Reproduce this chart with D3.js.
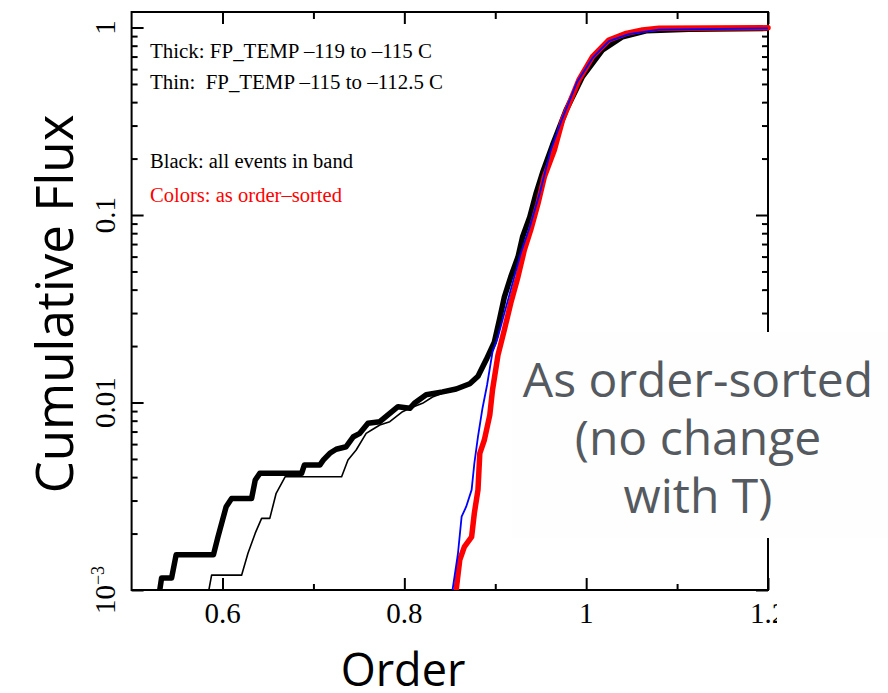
<!DOCTYPE html>
<html><head><meta charset="utf-8">
<script src="https://cdn.jsdelivr.net/npm/d3@7"></script>
<style>body{margin:0;background:#fff}</style>
</head><body><svg id="c" width="888" height="693"></svg>
<script>
// ---- data ----
const xMajorTicks = [0.6, 0.8, 1.0, 1.2];
const xMinorTicks = [0.7, 0.9, 1.1];
const xTickLabels = ["0.6", "0.8", "1", "1.2"];
const yMajorTicks = [0.001, 0.01, 0.1, 1];
const yTickLabels = ["10", "0.01", "0.1", "1"];
const yMinorMultiples = [2, 3, 4, 5, 6, 7, 8, 9];

// Thick black: FP_TEMP -119 to -115 C, all events in band
const thickBlackOrder = [0.531,0.533,0.544,0.549,0.590,0.595,0.604,0.610,0.632,0.636,0.641,0.687,0.690,0.707,0.711,0.718,0.725,0.736,0.744,0.751,0.760,0.773,0.784,0.793,0.806,0.811,0.824,0.842,0.857,0.872,0.881,0.890,0.899,0.905,0.910,0.917,0.925,0.930,0.938,0.945,0.952,0.963,0.978,0.996,1.018,1.040,1.066,1.113,1.200];
const thickBlackFlux = [0.00100,0.00116,0.00116,0.00154,0.00154,0.00192,0.00278,0.00308,0.00308,0.00386,0.00419,0.00419,0.00464,0.00464,0.00494,0.00536,0.00563,0.00581,0.00657,0.00685,0.00775,0.00790,0.00876,0.00950,0.00931,0.00990,0.0110,0.0114,0.0118,0.0126,0.0138,0.0169,0.0210,0.0282,0.0365,0.0467,0.0597,0.0763,0.0976,0.131,0.168,0.236,0.363,0.547,0.759,0.893,0.960,0.978,0.990];

// Thin black: FP_TEMP -115 to -112.5 C, all events in band
const thinBlackOrder = [0.585,0.588,0.621,0.628,0.636,0.643,0.652,0.659,0.669,0.731,0.738,0.747,0.758,0.764,0.773,0.784,0.791,0.798,0.806,0.820,0.831,0.842,0.857,0.872,0.881,0.890,0.899,0.905,0.910,0.917,0.925,0.930,0.938,0.945,0.952,0.963,0.978,0.996,1.018,1.040,1.066,1.113,1.200];
const thinBlackFlux = [0.00100,0.00120,0.00120,0.00157,0.00201,0.00241,0.00241,0.00328,0.00402,0.00402,0.00494,0.00558,0.00685,0.00713,0.00759,0.00790,0.00840,0.00893,0.00931,0.00990,0.0107,0.0112,0.0117,0.0124,0.0135,0.0164,0.0205,0.0275,0.0357,0.0461,0.0590,0.0754,0.0964,0.129,0.166,0.233,0.359,0.545,0.759,0.890,0.958,0.976,0.988];

// Red (thick, as order-sorted)
const thickRedOrder = [0.857,0.861,0.866,0.874,0.877,0.881,0.883,0.888,0.894,0.897,0.903,0.910,0.917,0.925,0.932,0.939,0.947,0.954,0.965,0.974,0.983,0.992,1.007,1.025,1.044,1.062,1.080,1.200];
const thickRedFlux = [0.00100,0.00145,0.00170,0.00192,0.00257,0.00342,0.00536,0.00631,0.00858,0.0117,0.0179,0.0244,0.0338,0.0469,0.0651,0.0832,0.115,0.160,0.222,0.321,0.411,0.525,0.699,0.858,0.931,0.970,0.990,0.996];

// Blue (thin, as order-sorted)
const thinBlueOrder = [0.853,0.859,0.863,0.868,0.874,0.877,0.881,0.886,0.891,0.897,0.903,0.910,0.919,0.928,0.938,0.949,0.961,0.973,0.990,1.007,1.025,1.047,1.080,1.200];
const thinBlueFlux = [0.00100,0.00157,0.00246,0.00278,0.00342,0.00474,0.00657,0.00935,0.0124,0.0186,0.0224,0.0299,0.0432,0.0625,0.0866,0.131,0.222,0.321,0.512,0.688,0.847,0.923,0.975,0.990];

const noteLines = ["Thick: FP_TEMP \u2013119 to \u2013115 C", "Thin:  FP_TEMP \u2013115 to \u2013112.5 C", "Black: all events in band", "Colors: as order\u2013sorted"];
const overlayLines = ["As order-sorted", "(no change", "with T)"];

// ---- chart ----
const svg = d3.select("#c");
const L = 131.6, R = 768, T = 12, B = 590;
const x = d3.scaleLinear().domain([0.5, 1.2]).range([L, R]);
const y = d3.scaleLog().domain([0.001, 1.21]).range([B, T]);

const yMinor = [];
yMajorTicks.slice(0, 3).forEach(d => yMinorMultiples.forEach(m => yMinor.push(d * m)));

const serif = "'Liberation Serif','Times New Roman',serif";
const sans = "'Open Sans','Noto Sans',sans-serif";

function styleAxis(g) {
  g.select(".domain").remove();
  g.selectAll(".tick line").attr("stroke", "#000").attr("stroke-width", 2);
  g.selectAll(".tick text").remove();
}
// bottom & top
svg.append("g").attr("transform", `translate(0,${B})`).call(d3.axisBottom(x).tickValues(xMajorTicks).tickSize(-12)).call(styleAxis);
svg.append("g").attr("transform", `translate(0,${B})`).call(d3.axisBottom(x).tickValues(xMinorTicks).tickSize(-6)).call(styleAxis);
svg.append("g").attr("transform", `translate(0,${T})`).call(d3.axisTop(x).tickValues(xMajorTicks).tickSize(-12)).call(styleAxis);
svg.append("g").attr("transform", `translate(0,${T})`).call(d3.axisTop(x).tickValues(xMinorTicks).tickSize(-7)).call(styleAxis);
// left & right
svg.append("g").attr("transform", `translate(${L},0)`).call(d3.axisLeft(y).tickValues(yMajorTicks).tickSize(-12)).call(styleAxis);
svg.append("g").attr("transform", `translate(${L},0)`).call(d3.axisLeft(y).tickValues(yMinor).tickSize(-6)).call(styleAxis);
svg.append("g").attr("transform", `translate(${R},0)`).call(d3.axisRight(y).tickValues(yMajorTicks).tickSize(-12)).call(styleAxis);
svg.append("g").attr("transform", `translate(${R},0)`).call(d3.axisRight(y).tickValues(yMinor).tickSize(-6)).call(styleAxis);

// frame
svg.append("rect").attr("x", L).attr("y", T).attr("width", R - L).attr("height", B - T)
  .attr("fill", "none").attr("stroke", "#000").attr("stroke-width", 2);

// x tick labels
svg.append("clipPath").attr("id", "xl").append("rect").attr("x", 0).attr("y", 590).attr("width", 777).attr("height", 60);
svg.append("g").attr("clip-path", "url(#xl)").selectAll("text").data(xMajorTicks).join("text")
  .attr("x", d => x(d)).attr("y", 623).attr("text-anchor", "middle")
  .attr("font-family", serif).attr("font-size", 29).attr("fill", "#000")
  .text((d, i) => xTickLabels[i]);

// y tick labels (rotated)
yMajorTicks.forEach((d, i) => {
  const t = svg.append("text").attr("transform", `translate(115,${y(d)}) rotate(-90)`)
    .attr("text-anchor", "middle").attr("font-family", serif).attr("font-size", 29).attr("fill", "#000");
  t.append("tspan").text(yTickLabels[i]);
  if (i === 0) t.append("tspan").attr("font-size", 18).attr("dy", -11).text("\u22123");
});

// curves
const line = d3.line().x(d => x(d[0])).y(d => y(d[1]));
const zip = (a, b) => a.map((v, i) => [v, b[i]]);
svg.append("clipPath").attr("id", "pc").append("rect").attr("x", L).attr("y", T - 5).attr("width", R - L + 5).attr("height", B - T + 5);
const plot = svg.append("g").attr("clip-path", "url(#pc)");
plot.append("path").datum(zip(thinBlackOrder, thinBlackFlux)).attr("d", line).attr("fill", "none").attr("stroke", "#000").attr("stroke-width", 1.6).attr("stroke-linejoin", "round");
plot.append("path").datum(zip(thickBlackOrder, thickBlackFlux)).attr("d", line).attr("fill", "none").attr("stroke", "#000").attr("stroke-width", 5.5).attr("stroke-linejoin", "round");
plot.append("path").datum(zip(thickRedOrder, thickRedFlux)).attr("d", line).attr("fill", "none").attr("stroke", "#ff0000").attr("stroke-width", 5.5).attr("stroke-linejoin", "round").attr("stroke-linecap", "round");
plot.append("path").datum(zip(thinBlueOrder, thinBlueFlux)).attr("d", line).attr("fill", "none").attr("stroke", "#0000ff").attr("stroke-width", 1.8).attr("stroke-linejoin", "round");

// notes inside plot
const noteY = [58, 89, 168, 202];
const noteW = [282, 293, 203, 192];
noteLines.forEach((s, i) => {
  svg.append("text").attr("x", 150).attr("y", noteY[i]).attr("font-family", serif).attr("font-size", 20.5)
    .attr("fill", i === 3 ? "#ff0000" : "#000").attr("textLength", noteW[i]).attr("lengthAdjust", "spacingAndGlyphs")
    .style("white-space", "pre").text(s);
});

// axis titles
svg.append("text").attr("x", 403).attr("y", 686).attr("text-anchor", "middle").attr("font-family", sans).attr("font-size", 45).attr("fill", "#000").text("Order");
svg.append("text").attr("transform", "translate(73,304) rotate(-90)").attr("text-anchor", "middle").attr("font-family", sans).attr("font-size", 51).attr("fill", "#000").text("Cumulative Flux");

// overlay box + text
svg.append("rect").attr("x", 512).attr("y", 332).attr("width", 376).attr("height", 206).attr("fill", "#fefefe");
overlayLines.forEach((s, i) => {
  svg.append("text").attr("x", 698).attr("y", 397 + i * 58).attr("text-anchor", "middle").attr("font-family", sans)
    .attr("font-size", 48).attr("fill", "#555a60").text(s);
});
</script></body></html>
